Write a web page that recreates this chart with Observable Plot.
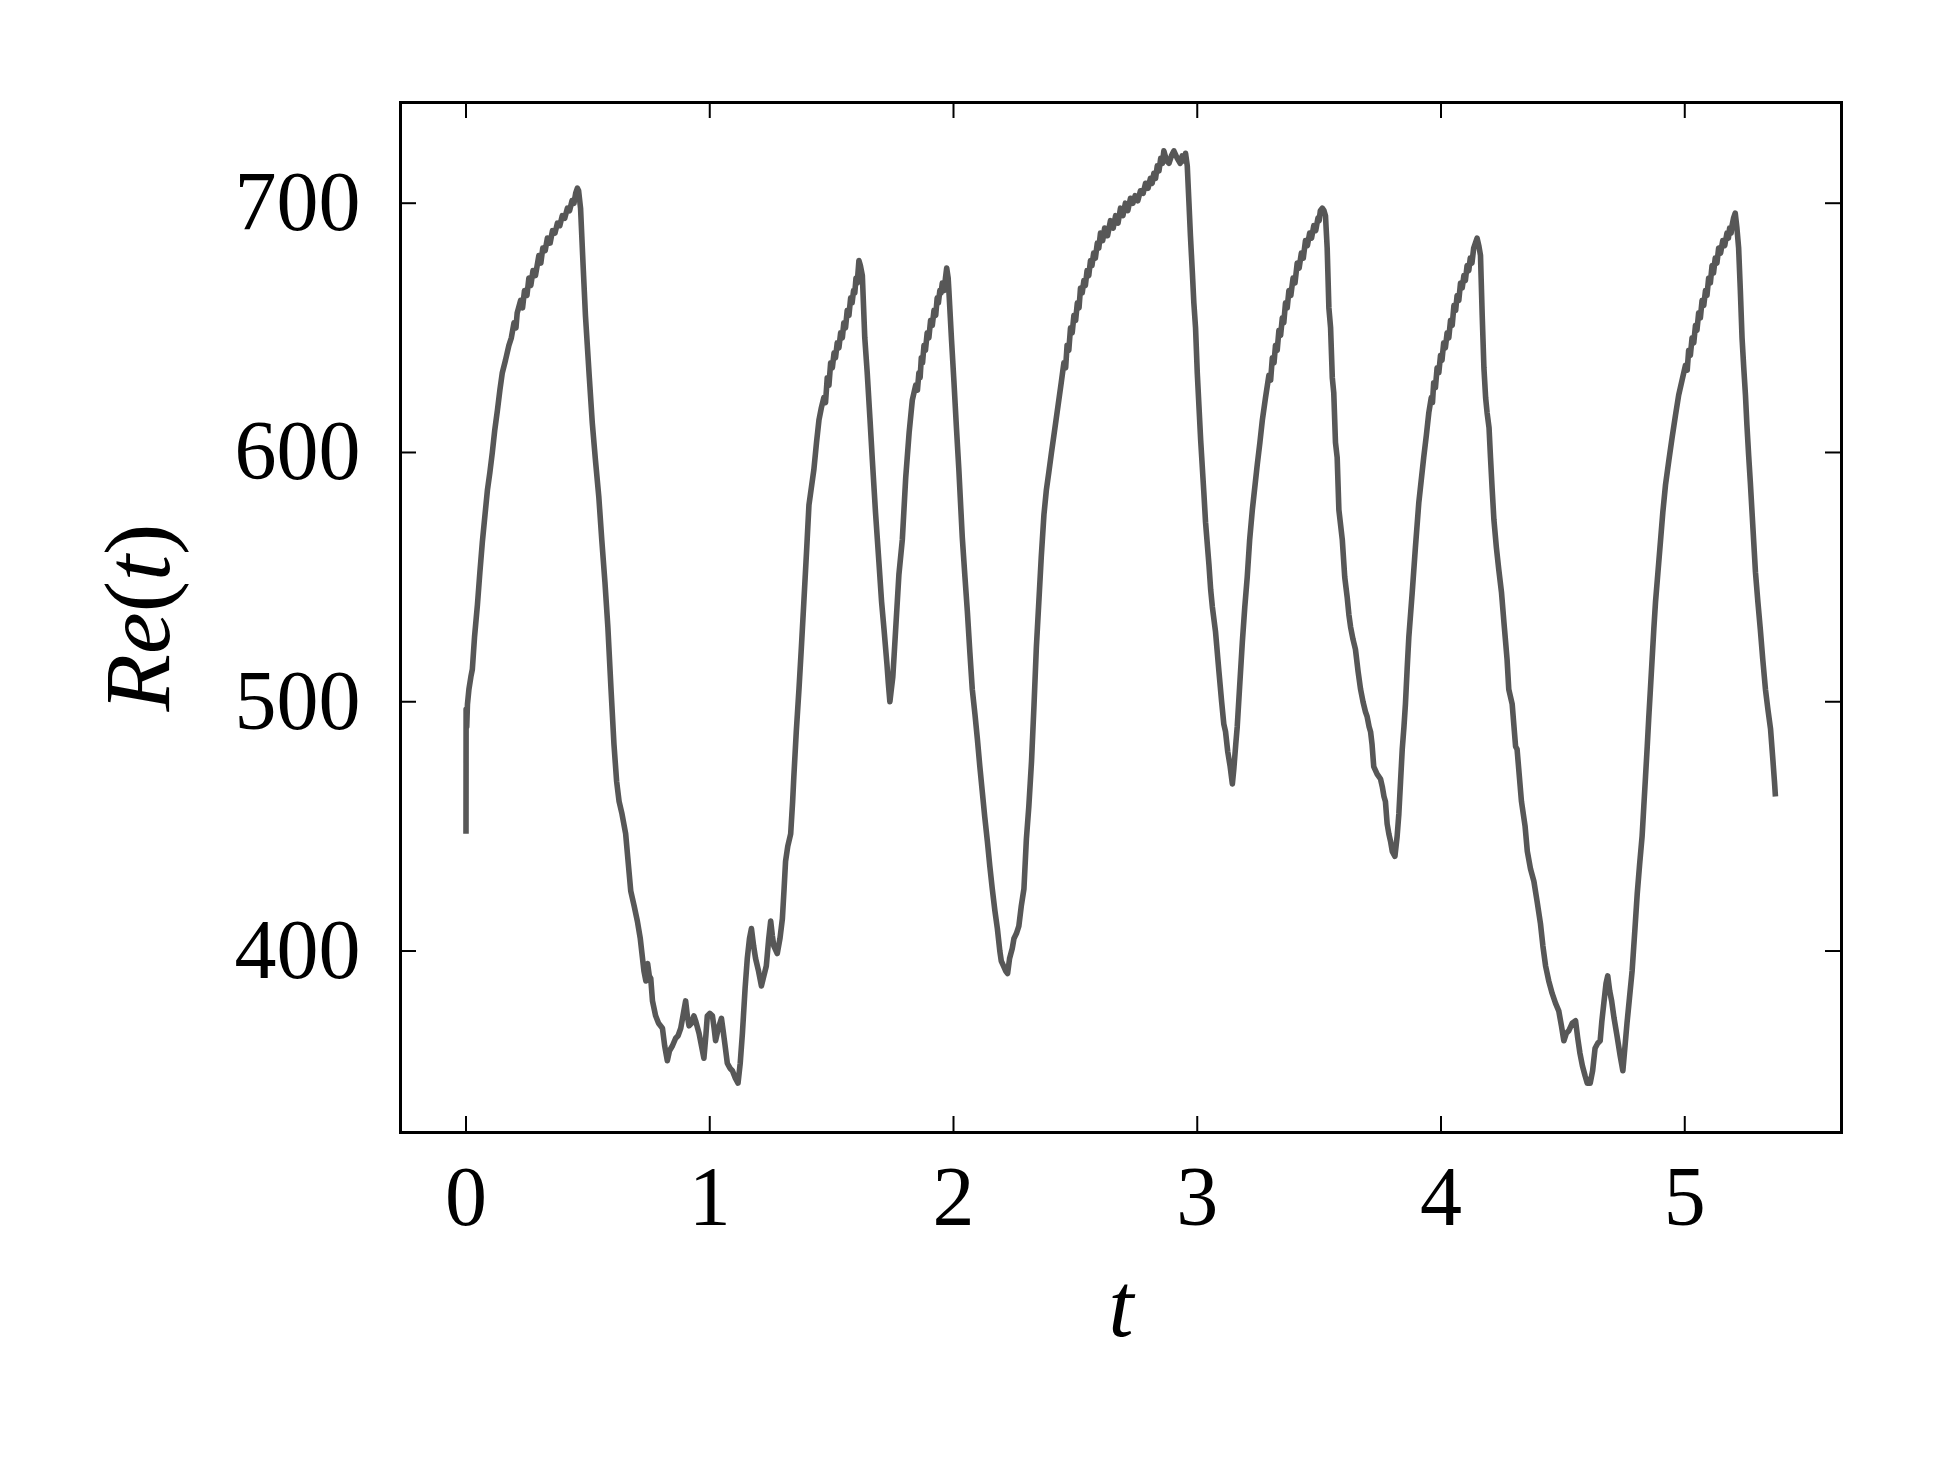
<!DOCTYPE html>
<html>
<head>
<meta charset="utf-8">
<script src="https://cdn.jsdelivr.net/npm/d3@7"></script>
<script src="https://cdn.jsdelivr.net/npm/@observablehq/plot@0.6"></script>
<style>
  html, body { margin: 0; padding: 0; background: #ffffff; }
  #chart { width: 1943px; height: 1457px; }
</style>
</head>
<body>
<div id="chart"></div>
<script>
// Tick values
const xTicks = [0, 1, 2, 3, 4, 5];
const yTicks = [400, 500, 600, 700];
const xLabel = "t";
const yLabel = "Re(t)";

// Re(t) series: [t, Re]
const reSeries = [
  [0.000,447],[0.0005,497],[0.003,490],[0.006,499],[0.012,505],[0.020,510],[0.026,513],[0.035,526],
  [0.047,539],[0.057,552],[0.067,564],[0.078,575],[0.088,585],[0.098,592],[0.108,600],[0.118,609],
  [0.129,617],[0.139,625],[0.149,632],[0.162,637],[0.176,643],[0.186,646],[0.197,652],[0.205,650],
  [0.210,656],[0.224,661],[0.232,658],[0.240,665],[0.250,663],[0.258,670],[0.266,667],[0.275,673],
  [0.285,671],[0.299,679],[0.307,676],[0.315,682],[0.325,681],[0.334,686],[0.345,684],[0.355,689],
  [0.365,688],[0.375,692],[0.385,691],[0.395,695],[0.405,694],[0.416,698],[0.425,697],[0.435,701],
  [0.443,700],[0.450,704],[0.457,706],[0.462,705],
  [0.470,698],[0.480,676],[0.490,655],[0.506,630],[0.518,612],[0.531,597],[0.545,582],[0.557,565],
  [0.570,548],[0.582,530],[0.595,505],[0.607,483],[0.618,468],[0.628,460],[0.640,455],[0.655,447],
  [0.665,436],[0.676,424],[0.690,418],[0.703,412],[0.715,405],[0.730,392],[0.738,388],[0.745,395],
  [0.752,390],[0.758,389],[0.765,380],[0.778,374],[0.790,371],[0.806,369],[0.815,362],[0.826,356],
  [0.835,360],[0.847,362],[0.860,365],[0.870,366],[0.881,369],[0.892,375],[0.901,380],[0.908,374],
  [0.915,370],[0.925,371],[0.935,374],[0.942,372],[0.956,367],[0.966,362],[0.976,357],[0.984,366],
  [0.990,374],[1.000,375],[1.011,374],[1.018,369],[1.024,364],[1.035,369],[1.048,373],[1.055,368],
  [1.063,362],[1.072,355],[1.083,353],[1.093,352],[1.105,349],[1.116,347],[1.125,355],[1.134,367],
  [1.145,385],[1.154,397],[1.163,405],[1.171,409],[1.180,402],[1.188,397],[1.200,392],[1.212,386],
  [1.222,390],[1.232,394],[1.242,405],[1.250,412],[1.257,406],[1.263,402],[1.277,399],[1.288,405],
  [1.298,413],[1.305,425],[1.311,436],[1.320,442],[1.332,447],[1.340,460],[1.345,470],[1.355,488],
  [1.366,505],[1.376,522],[1.386,540],[1.397,560],[1.407,579],[1.417,586],[1.427,593],[1.438,604],
  [1.448,613],[1.458,618],[1.468,622],[1.475,620],[1.482,630],[1.489,627],[1.496,636],[1.503,634],
  [1.510,640],[1.516,638],[1.523,644],[1.530,642],[1.537,648],[1.544,646],[1.550,652],[1.557,650],
  [1.564,657],[1.571,655],[1.578,662],[1.584,660],[1.590,665],[1.595,664],[1.600,670],[1.605,668],
  [1.612,677],[1.618,675],[1.626,671],
  [1.636,646],[1.646,632],[1.657,614],[1.667,597],[1.680,576],[1.694,556],[1.705,540],[1.715,529],
  [1.727,515],[1.733,507],[1.739,500],[1.745,505],[1.751,510],[1.756,518],[1.776,551],[1.790,565],
  [1.804,590],[1.818,608],[1.831,621],
  [1.845,627],[1.852,625],[1.858,632],[1.863,630],[1.868,638],[1.873,636],[1.879,643],[1.885,641],
  [1.892,648],[1.899,646],[1.906,653],[1.913,651],[1.920,657],[1.927,655],[1.933,662],[1.938,660],
  [1.944,665],[1.949,664],[1.954,668],[1.962,665],[1.967,670],[1.972,674],[1.978,670],[1.981,665],
  [1.992,645],[2.002,628],[2.012,610],[2.022,593],[2.036,566],[2.047,550],[2.057,536],[2.067,520],
  [2.077,505],[2.088,495],[2.098,485],[2.108,474],[2.118,464],[2.128,454],[2.139,444],[2.149,434],
  [2.159,425],[2.170,416],[2.180,409],[2.190,400],[2.196,396],[2.205,394],[2.214,392],[2.222,391],
  [2.230,397],[2.241,401],[2.248,405],[2.258,407],[2.268,410],[2.278,418],[2.289,425],[2.299,445],
  [2.309,458],[2.320,476],[2.330,498],[2.340,522],[2.350,540],[2.360,558],[2.371,575],[2.381,585],
  [2.391,592],[2.402,600],[2.412,607],[2.422,614],[2.432,621],[2.442,628],
  [2.453,636],[2.460,634],[2.466,643],[2.473,641],[2.480,650],[2.487,648],[2.494,655],[2.501,653],
  [2.508,660],[2.515,658],[2.521,666],[2.528,664],[2.535,669],[2.541,667],[2.548,673],[2.555,671],
  [2.562,677],[2.568,675],[2.575,680],[2.582,678],[2.590,684],[2.596,682],[2.603,688],[2.612,685],
  [2.620,690],[2.632,687],[2.644,693],[2.655,690],[2.665,695],[2.675,692],[2.685,698],[2.695,695],
  [2.705,700],[2.715,697],[2.726,702],[2.736,700],[2.745,703],[2.756,701],[2.767,705],[2.778,704],
  [2.788,708],[2.798,706],[2.808,710],[2.815,708],[2.822,712],[2.829,710],[2.836,715],[2.843,713],
  [2.850,718],[2.857,716],[2.863,721],[2.874,717],[2.884,716],[2.894,719],[2.904,721],[2.918,718],
  [2.930,716],[2.938,719],[2.945,717],[2.952,720],[2.959,715],
  [2.966,700],[2.972,687],[2.980,672],[2.986,660],[2.993,650],[3.000,632],[3.014,605],[3.027,584],
  [3.034,572],[3.048,555],[3.055,545],[3.062,538],[3.075,528],[3.089,512],[3.100,500],[3.109,491],
  [3.116,488],[3.125,480],[3.135,474],[3.144,467],[3.150,473],[3.158,483],[3.164,490],[3.175,508],
  [3.185,524],[3.195,538],[3.205,550],[3.215,565],[3.226,577],[3.236,586],[3.246,595],[3.257,604],
  [3.267,613],[3.280,622],
  [3.294,631],[3.301,629],[3.308,638],[3.315,636],[3.321,643],[3.328,641],[3.335,649],[3.342,647],
  [3.349,654],[3.355,652],[3.362,660],[3.369,658],[3.376,665],[3.384,663],[3.393,670],[3.401,668],
  [3.410,676],[3.418,674],[3.427,680],[3.435,678],[3.444,685],[3.452,683],[3.461,688],[3.469,686],
  [3.478,691],[3.486,689],[3.495,694],[3.500,693],[3.505,697],[3.513,698],[3.520,697],[3.526,695],
  [3.533,682],[3.540,658],[3.547,650],[3.554,630],[3.560,624],[3.567,604],[3.574,598],[3.581,577],
  [3.595,565],[3.605,550],[3.615,542],[3.622,535],[3.629,530],[3.639,525],[3.649,521],[3.660,512],
  [3.670,505],[3.680,500],[3.690,496],[3.697,494],[3.705,490],[3.711,488],[3.717,483],[3.724,474],
  [3.738,471],[3.752,469],[3.759,466],[3.766,462],[3.772,460],[3.779,451],[3.786,447],[3.793,444],
  [3.800,440],[3.811,438],[3.820,446],[3.827,455],[3.834,468],[3.841,481],[3.848,490],[3.854,499],
  [3.861,513],[3.868,526],[3.882,544],[3.895,562],[3.909,580],[3.919,589],[3.929,598],[3.940,607],
  [3.950,616],[3.960,622],[3.965,620],[3.970,628],[3.977,626],[3.984,634],[3.991,632],[3.998,639],
  [4.004,637],[4.011,644],[4.018,642],[4.025,648],[4.032,646],[4.039,653],[4.046,651],[4.053,659],
  [4.060,657],[4.066,663],[4.073,661],[4.080,668],[4.087,666],[4.094,671],[4.100,669],[4.107,675],
  [4.114,673],[4.120,678],[4.127,676],[4.134,682],[4.141,684],[4.148,686],[4.155,683],[4.162,679],
  [4.169,655],[4.176,634],[4.183,622],[4.189,616],[4.197,610],[4.203,598],[4.210,585],[4.217,573],
  [4.227,562],[4.237,553],[4.248,544],[4.258,532],[4.265,524],[4.271,517],[4.278,505],[4.292,499],
  [4.306,482],[4.312,481],[4.330,460],[4.345,450],[4.354,440],[4.367,433],[4.381,428],[4.394,420],
  [4.408,411],[4.418,402],[4.429,394],[4.442,388],[4.456,383],[4.470,379],[4.483,376],[4.494,370],
  [4.504,364],[4.514,367],[4.524,368],[4.538,371],[4.552,372],[4.561,365],[4.570,359],[4.580,354],
  [4.591,350],[4.600,347],[4.612,347],[4.622,352],[4.632,361],[4.643,363],[4.653,364],[4.660,372],
  [4.669,380],[4.677,387],[4.684,390],[4.692,384],[4.700,380],[4.710,373],[4.722,366],[4.735,358],
  [4.746,352],[4.755,362],[4.763,371],[4.773,381],[4.784,392],[4.795,408],[4.805,423],[4.815,435],
  [4.825,446],[4.832,458],[4.839,470],[4.846,482],[4.852,493],[4.859,505],[4.866,517],[4.873,529],
  [4.880,540],[4.890,552],[4.900,564],[4.910,576],[4.921,587],[4.935,597],[4.948,606],[4.962,615],
  [4.975,623],[4.989,629],
  [5.003,635],[5.010,633],[5.016,641],[5.023,639],[5.030,646],[5.037,644],[5.044,651],[5.050,649],
  [5.057,656],[5.064,654],[5.071,661],[5.078,659],[5.085,665],[5.091,663],[5.098,670],[5.105,668],
  [5.112,675],[5.118,672],[5.125,678],[5.132,676],[5.139,682],[5.147,680],[5.156,685],[5.164,683],
  [5.173,688],[5.179,686],[5.184,690],[5.190,688],[5.194,691],[5.200,694],[5.207,696],[5.214,690],
  [5.221,682],[5.228,665],[5.235,646],[5.242,634],[5.249,623],[5.255,611],[5.262,599],[5.269,588],
  [5.276,576],[5.283,564],[5.290,552],[5.300,540],[5.310,529],[5.320,517],[5.331,505],[5.341,497],
  [5.352,489],[5.362,476],[5.368,468],[5.372,462]
];

const data = reSeries.map(([t, re]) => ({t, re}));

const W = 1943, H = 1457;
const mL = 400, mR = 102, mT = 102, mB = 325;
const innerW = W - mL - mR, innerH = H - mT - mB;
const tickLen = 16;
const serif = "'Liberation Serif', 'DejaVu Serif', serif";

const chart = Plot.plot({
  width: W,
  height: H,
  marginLeft: mL, marginRight: mR, marginTop: mT, marginBottom: mB,
  x: {domain: [-0.2687, 5.643]},
  y: {domain: [327.2, 740.4]},
  style: {background: "#ffffff", fontFamily: serif, color: "black"},
  marks: [
    Plot.line(data, {x: "t", y: "re", stroke: "#575757", strokeWidth: 5.6, strokeLinejoin: "round", strokeLinecap: "butt"}),
    Plot.gridX(xTicks, {stroke: "black", strokeOpacity: 1, strokeWidth: 2, insetTop: innerH - tickLen}),
    Plot.gridX(xTicks, {stroke: "black", strokeOpacity: 1, strokeWidth: 2, insetBottom: innerH - tickLen}),
    Plot.gridY(yTicks, {stroke: "black", strokeOpacity: 1, strokeWidth: 2, insetRight: innerW - tickLen}),
    Plot.gridY(yTicks, {stroke: "black", strokeOpacity: 1, strokeWidth: 2, insetLeft: innerW - tickLen}),
    Plot.frame({stroke: "black", strokeWidth: 3}),
    Plot.axisX(xTicks, {tickSize: 0, tickPadding: 33, fontSize: 84, fontFamily: serif, label: null, tickFormat: d => String(d)}),
    Plot.axisY(yTicks, {tickSize: 0, tickPadding: 40, fontSize: 84, fontFamily: serif, label: null, tickFormat: d => String(d)}),
    Plot.text([xLabel], {frameAnchor: "bottom", lineAnchor: "bottom", dy: 203, fontSize: 90, fontStyle: "italic", fontFamily: serif, fill: "black"}),
    Plot.text([yLabel], {frameAnchor: "left", textAnchor: "middle", lineAnchor: "bottom", rotate: -90, dx: -232, fontSize: 94, fontFamily: serif, fill: "black"})
  ]
});

document.getElementById("chart").appendChild(chart);

// Mathematical styling of the y label: italic Re and t, upright parentheses
const yl = Array.from(chart.querySelectorAll("text")).find(el => el.textContent === yLabel);
if (yl) {
  const sel = d3.select(yl);
  sel.text(null);
  sel.append("tspan").attr("font-style", "italic").text("Re");
  sel.append("tspan").text("(");
  sel.append("tspan").attr("font-style", "italic").text("t");
  sel.append("tspan").text(")");
}
</script>
</body>
</html>
